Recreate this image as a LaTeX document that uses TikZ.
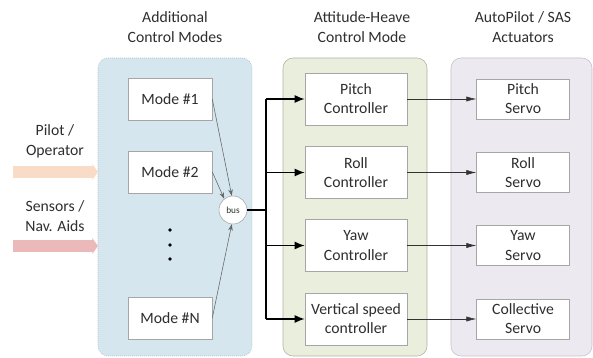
\documentclass[tikz,border=0pt]{standalone}
\usepackage{fontspec}
\setmainfont{Carlito}
\usetikzlibrary{arrows.meta,positioning}
\definecolor{txtgray}{HTML}{2E2E2E}
\definecolor{boxgray}{HTML}{A6A6A6}
\definecolor{modefill}{HTML}{D5E6EE}
\definecolor{modeedge}{HTML}{93AEBD}
\definecolor{ctrlfill}{HTML}{E9EEDD}
\definecolor{ctrledge}{HTML}{AEB39F}
\definecolor{servofill}{HTML}{ECE9F0}
\definecolor{servoedge}{HTML}{C4BFCA}
\definecolor{pilotpeach}{HTML}{F8DCC8}
\definecolor{sensorpink}{HTML}{EBB9B9}
\tikzset{
    block/.style={rectangle,draw=boxgray,fill=white,text=txtgray,align=center,
        font=\fontsize{11pt}{13.4pt}\selectfont},
    modebox/.style={block,minimum width=58.8pt,minimum height=29.4pt},
    ctrlbox/.style={block,minimum width=71.4pt,minimum height=36.4pt},
    servobox/.style={block,minimum width=65.1pt,minimum height=28pt},
    bus/.style={circle,draw=boxgray,fill=white,text=txtgray,inner sep=0pt,
        minimum size=19.6pt,font=\fontsize{6.5pt}{7pt}\selectfont},
    title/.style={align=center,text=txtgray,font=\fontsize{11pt}{14pt}\selectfont},
    panel/.style={rounded corners=7pt},
    feed/.style={-{Triangle[length=4pt,width=11pt]},line width=8pt},
    modearrow/.style={-{Stealth[length=4.5pt,width=3.2pt]},draw=black!60,line width=0.4pt},
    busline/.style={-,draw=black,line width=1pt},
    busarrow/.style={-{Latex[length=7pt,width=5.6pt]},draw=black,line width=1pt},
    servoarrow/.style={-{Latex[length=7pt,width=3.6pt]},draw=black!80,line width=0.4pt}
}

\begin{document}
\begin{tikzpicture}[x=0.7pt,y=-0.7pt]

    \useasboundingbox (0,0) rectangle (593,358);

    % panels
    \draw[panel,draw=modeedge,fill=modefill,densely dotted] (98,58) rectangle (252,356);
    \draw[panel,draw=ctrledge,fill=ctrlfill] (283,58) rectangle (427,356);
    \draw[panel,draw=servoedge,fill=servofill] (451,58) rectangle (592,356);

    % titles
    \node[title] (tmodes) at (175,27) {Additional\\Control Modes};
    \node[title] (tctrl)  at (362,27) {Attitude-Heave\\Control Mode};
    \node[title] (tservo) at (523,27) {AutoPilot / SAS\\Actuators};

    % inputs
    \node[title] (pilot)   at (55,141) {Pilot /\\Operator};
    \node[title] (sensors) at (55,216) {Sensors /\\Nav. Aids};
    \coordinate (pilotstart)  at (13,172);
    \coordinate (pilotend)    at (98,172);
    \coordinate (sensorstart) at (13,246);
    \coordinate (sensorend)   at (98,246);
    \draw[feed,draw=pilotpeach] (pilotstart) -- (pilotend);
    \draw[feed,draw=sensorpink] (sensorstart) -- (sensorend);

    % control modes
    \node[modebox] (mode1) at (170,99)  {Mode \#1};
    \node[modebox] (mode2) at (170,172) {Mode \#2};
    \node[modebox] (moden) at (170,318) {Mode \#N};
    \foreach \y in {230,245,259}
        \fill (170,\y) circle (1.3pt);

    \node[bus] (bus) at (233,210) {bus};

    \draw[modearrow] (mode1.east) -- (bus.95);
    \draw[modearrow] (mode2.east) -- (bus.128);
    \draw[modearrow] (moden.east) -- (bus.265);

    % controllers
    \node[ctrlbox] (pitchc) at (356,99)    {Pitch\\Controller};
    \node[ctrlbox] (rollc)  at (356,172.5) {Roll\\Controller};
    \node[ctrlbox] (yawc)   at (356,245.5) {Yaw\\Controller};
    \node[ctrlbox] (vertc)  at (356,319)   {Vertical speed\\controller};

    % servos
    \node[servobox] (pitchs) [right=48.3pt of pitchc] {Pitch\\Servo};
    \node[servobox] (rolls)  [right=48.3pt of rollc]  {Roll\\Servo};
    \node[servobox] (yaws)   [right=48.3pt of yawc]   {Yaw\\Servo};
    \node[servobox] (colls)  [right=48.3pt of vertc]  {Collective\\Servo};

    % bus to controllers
    \coordinate (split) at (266,210);
    \draw[busline] (bus) -- (split);
    \draw[busline] (split |- pitchc.west) -- (split |- vertc.west);
    \foreach \c in {pitchc,rollc,yawc,vertc}
        \draw[busarrow] (split |- \c.west) -- (\c.west);

    % controllers to servos
    \foreach \c/\s in {pitchc/pitchs,rollc/rolls,yawc/yaws,vertc/colls}
        \draw[servoarrow] (\c) -- (\s);

\end{tikzpicture}
\end{document}
